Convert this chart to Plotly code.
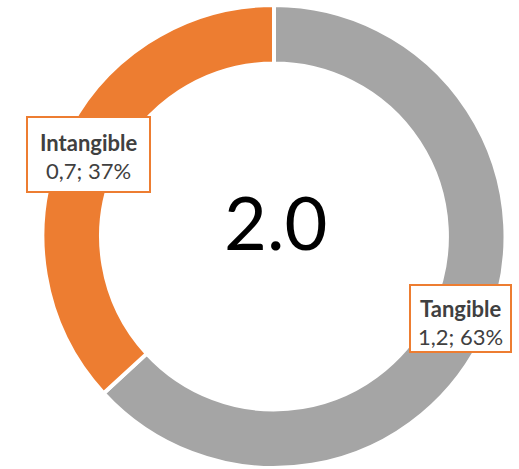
import plotly.graph_objects as go

# Asset split (value in millions; Spanish-style decimal comma in labels)
labels = ["Tangible", "Intangible"]
values = [1.2, 0.7]
colors = ["#A5A5A5", "#ED7D31"]
center_text = "2.0"

W, H = 519, 469
total = sum(values)

def px_x(x):
    return x / W

def px_y(y):
    return 1 - y / H

fig = go.Figure(
    go.Pie(
        labels=labels,
        values=values,
        hole=0.747,
        sort=False,
        direction="clockwise",
        rotation=0,
        marker=dict(colors=colors, line=dict(color="white", width=4)),
        textinfo="none",
        hoverinfo="label+value+percent",
        domain=dict(x=[px_x(42.5), px_x(505.5)], y=[px_y(468), px_y(5)]),
        showlegend=False,
    )
)

# Callout boxes for each slice: (box left, top, right, bottom, text centre x, line 1 y, line 2 y)
callouts = {
    "Intangible": (27, 117, 150, 192, 88.5, 142, 170.5),
    "Tangible": (410, 285, 511, 352, 460, 308, 336),
}

shapes = []
annotations = []
label_font = "Lato, 'Open Sans', sans-serif"
for name, val in zip(labels, values):
    x0, y0, x1, y1, cx, ly1, ly2 = callouts[name]
    pct = round(100 * val / total)
    value_txt = f"{val:.1f}".replace(".", ",")
    shapes.append(
        dict(
            type="rect", xref="paper", yref="paper",
            x0=px_x(x0), x1=px_x(x1), y0=px_y(y1), y1=px_y(y0),
            line=dict(color="#ED7D31", width=2), fillcolor="white", layer="above",
        )
    )
    annotations.append(
        dict(
            text=f"<b>{name}</b>", x=px_x(cx), y=px_y(ly1), xref="paper", yref="paper",
            xanchor="center", yanchor="middle", showarrow=False,
            font=dict(family=label_font, size=22, color="#404040"),
        )
    )
    annotations.append(
        dict(
            text=f"{value_txt}; {pct}%", x=px_x(cx), y=px_y(ly2), xref="paper", yref="paper",
            xanchor="center", yanchor="middle", showarrow=False,
            font=dict(family=label_font, size=22, color="#404040"),
        )
    )

annotations.append(
    dict(
        text=center_text, x=px_x(275), y=px_y(222), xref="paper", yref="paper",
        xanchor="center", yanchor="middle", showarrow=False,
        font=dict(family=label_font, size=74, color="#000000"),
    )
)

fig.update_layout(
    width=W,
    height=H,
    margin=dict(l=0, r=0, t=0, b=0),
    paper_bgcolor="white",
    plot_bgcolor="white",
    shapes=shapes,
    annotations=annotations,
)

fig.write_html("out.html")
